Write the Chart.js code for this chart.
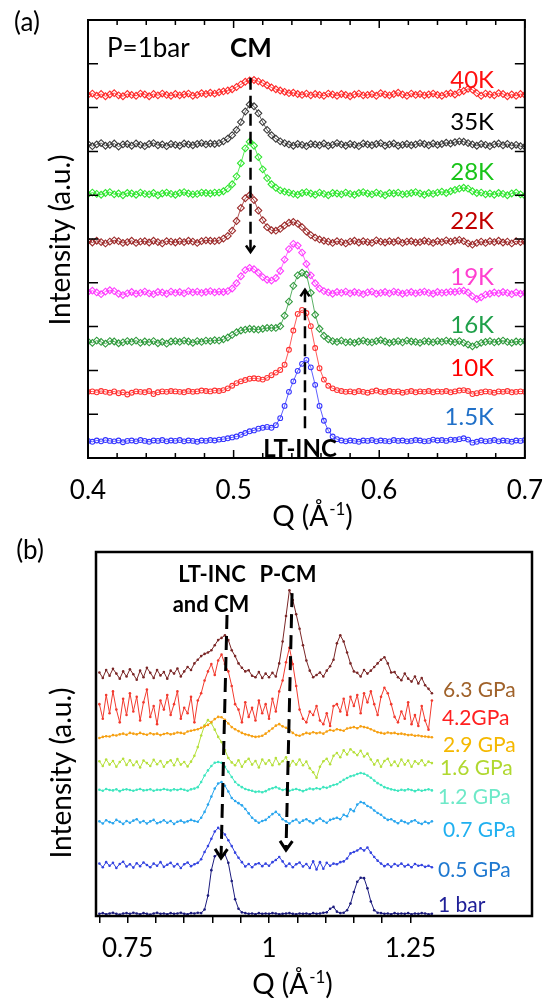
<!DOCTYPE html>
<html>
<head>
<meta charset="utf-8">
<title>Q scans vs temperature and pressure</title>
<script src="https://cdn.jsdelivr.net/npm/chart.js@4.4.1/dist/chart.umd.min.js"></script>
<style>
  html, body { margin: 0; padding: 0; background: #fff; }
  #wrap { position: relative; width: 560px; height: 1003px; }
  #wrap canvas { position: absolute; left: 0; top: 0; }
</style>
</head>
<body>
<div id="wrap">
  <canvas id="panelA" width="560" height="1003"></canvas>
  <canvas id="panelB" width="560" height="1003"></canvas>
</div>
<script>
const FONT = "Lato, 'Open Sans', sans-serif";
Chart.defaults.font.family = FONT;
Chart.defaults.color = '#000';

// ---------- panel (a): P = 1 bar, temperature scan ----------
const qStartA = 0.4;
const qStepA = 0.003;
const tickValsA = [0.4, 0.5, 0.6, 0.7];
const tempLabels = ['40K', '35K', '28K', '22K', '19K', '16K', '10K', '1.5K'];
// vertical offset of each curve (y units)
const tempOffsets = [8.29, 7.15, 6.03, 4.93, 3.77, 2.65, 1.51, 0.39];

// intensity above offset, in 1/100 of a y unit, one value every 0.003 in Q
const i40K = [
  0,3,-2,2,-3,1,4,-1,-3,2,
  0,-2,3,1,-3,2,-1,3,0,-2,
  2,-1,1,3,-2,0,4,2,5,3,
  6,8,10,13,18,24,30,33,34,31,
  27,22,17,13,10,7,4,5,2,0,
  3,-1,2,0,-2,3,1,-2,2,0,
  -3,1,3,-1,0,2,-2,4,1,-1,
  2,5,1,-2,3,0,2,-1,1,3,
  0,-2,2,4,1,6,9,14,12,4,
  -2,3,1,-1,4,2,-3,1,-2,2,0];
const i35K = [
  2,-3,1,4,-2,0,3,-4,1,2,
  -2,3,0,-3,2,4,-1,1,-3,2,
  0,-2,3,1,-1,2,4,1,3,2,
  4,8,14,22,34,52,76,92,88,72,
  52,34,22,14,8,4,1,-2,2,0,
  -3,2,1,-1,3,-2,0,4,1,-2,
  2,0,-3,3,1,-1,2,4,-2,1,
  3,-2,0,2,-1,1,4,2,-1,3,
  0,2,5,3,6,8,7,4,1,-2,
  2,0,-3,1,3,-1,2,-2,0,-3,-4];
const i28K = [
  -1,3,0,-2,2,4,-1,1,-3,2,
  1,-2,3,0,-1,2,-3,1,3,0,
  -2,2,4,1,-1,0,3,2,1,3,
  3,6,12,22,40,70,104,119,110,84,
  56,36,22,14,8,5,3,0,-2,2,
  4,1,-2,3,0,-3,2,1,-1,3,
  0,-2,2,4,1,-1,3,0,-3,2,
  1,3,-1,0,2,4,1,-2,2,0,
  3,5,2,6,9,12,14,12,6,2,
  3,-1,1,-2,2,0,-3,1,3,-1,-4];
const i22K = [
  2,-1,3,0,-3,1,4,2,-2,0,
  3,-2,1,2,-1,3,0,-3,2,1,
  -1,2,0,3,1,-2,2,4,3,2,
  4,8,14,26,48,78,100,107,96,72,
  50,34,27,26,30,38,44,46,42,34,
  24,16,10,6,3,1,-2,2,0,-3,
  1,3,-1,2,0,-2,4,1,-1,2,
  0,3,-2,1,2,-1,0,3,1,-2,
  2,0,4,1,3,5,2,-3,-6,-2,
  1,-2,2,0,3,-1,1,-3,2,0,1];
const i19K = [
  2,5,1,-3,3,6,4,-2,-5,-1,
  2,-2,0,3,-1,-3,2,1,-2,3,
  0,2,-1,4,1,3,0,2,4,1,
  3,2,4,10,22,38,52,57,54,46,
  36,30,28,34,50,76,100,112,108,92,
  66,40,22,10,4,1,-2,2,0,3,
  -1,2,0,-3,1,3,-2,0,2,-1,
  3,1,-2,0,2,-1,1,3,0,-2,
  2,0,1,3,2,4,5,1,-8,-14,
  -10,-4,-2,1,-1,2,0,-3,1,-2,0];
const i16K = [
  1,-2,3,0,-4,2,1,-3,-1,2,
  0,3,-2,1,-1,2,-3,0,-4,1,
  2,0,3,1,-2,2,0,3,2,4,
  3,6,10,16,22,26,28,30,29,28,
  30,32,32,32,36,60,92,128,152,158,
  154,112,62,30,14,6,2,0,3,-1,
  0,-2,1,3,0,-1,2,4,1,-2,
  0,2,-1,3,1,0,-2,2,1,-1,
  2,0,3,1,-1,2,-2,-6,-10,-6,
  -2,0,2,-1,1,3,0,-2,1,0,2];
const i10K = [
  0,1,-1,2,0,-2,1,-3,-1,-6,
  -2,1,0,-1,2,-5,-1,1,0,2,
  1,0,-1,2,0,1,3,2,1,3,
  2,4,8,14,20,24,27,30,31,30,
  28,32,38,44,50,62,96,140,178,187,
  180,150,100,54,28,14,8,4,2,0,
  1,-1,2,0,-2,1,3,0,-1,2,
  0,1,-2,0,2,-1,1,0,2,-1,
  1,0,2,-1,1,3,4,2,-5,-3,
  -1,1,0,-2,1,0,2,-1,0,1,0];
const i1p5K = [
  0,-2,1,-1,2,0,-1,1,-3,0,
  1,-1,2,0,-2,1,0,2,-1,1,
  0,2,-1,1,0,-2,1,0,2,1,
  3,4,6,8,10,14,18,22,24,28,
  30,32,30,36,52,80,112,136,160,176,
  185,168,128,80,46,24,10,4,1,-1,
  1,0,-2,1,0,2,-1,1,0,-1,
  2,0,1,-1,0,2,1,-1,0,3,
  1,2,0,3,2,4,6,3,-4,-2,
  1,-1,0,2,-1,1,0,-2,1,0,2];
const tempSeries = [i40K, i35K, i28K, i22K, i19K, i16K, i10K, i1p5K];

const tempColors = ['#ff2a2a', '#3a3a3a', '#2ee62e', '#9c2a2a', '#ff3cff', '#2f9a3c', '#ff3030', '#3535ff'];
const tempTextColors = ['#ff1010', '#000000', '#19c419', '#c00000', '#ff3fd0', '#1fa04a', '#ff0000', '#2070c8'];
const tempMarkers = ['rectRot', 'rectRot', 'rectRot', 'rectRot', 'rectRot', 'rectRot', 'circle', 'circle'];
const tempLabelY = [80, 122, 172, 221, 277, 325, 368, 417];

// ---------- panel (b): pressure scan ----------
const qStartB = 0.7;
const qStepB = 0.006;
const tickValsB = [0.7, 0.75, 0.8, 0.85, 0.9, 0.95, 1, 1.05, 1.1, 1.15, 1.2, 1.25];
const labeledB = [0.75, 1, 1.25];
const pressLabels = ['6.3 GPa', '4.2GPa', '2.9 GPa', '1.6 GPa', '1.2 GPa', '0.7 GPa', '0.5 GPa', '1 bar'];
const pressOffsets = [6.64, 5.72, 4.89, 4.20, 3.46, 2.58, 1.40, 0.06];

const p63 = [
  5,-10,12,-4,15,2,-12,8,-6,14,
  0,-15,10,-8,18,4,-10,12,-3,6,
  -12,10,2,16,-6,8,20,12,30,40,
  50,56,60,66,80,94,100,107,94,66,
  50,30,18,8,11,-4,-8,6,-10,2,
  -8,4,-6,30,90,160,231,204,165,125,
  80,38,10,-8,-2,5,-6,10,22,40,
  85,107,90,60,30,8,4,-6,12,2,
  10,20,30,40,47,30,5,6,-8,-16,
  2,-12,-20,-6,-25,-10,-30,-40,-52];
const p42 = [
  10,-30,35,-15,45,-5,-40,25,-20,40,
  -10,30,-35,15,50,-25,5,-45,20,-5,
  35,-20,10,45,-30,0,-15,30,-40,20,
  40,75,100,120,90,130,146,120,100,60,
  10,-5,-40,15,-25,0,-35,20,-15,10,
  -30,25,-10,45,75,125,165,120,60,-5,
  -30,-40,-10,-20,5,-35,-45,-15,-50,5,
  10,-10,25,-20,30,5,35,-15,40,15,
  45,10,-20,30,55,40,10,-25,-40,-10,
  -30,15,-45,-20,-50,5,-35,-60,20];
const p29 = [
  0,3,5,4,8,7,10,12,9,14,
  12,10,14,11,9,13,10,12,8,11,
  13,10,12,15,14,12,18,20,22,24,
  28,32,36,44,52,58,57,50,40,30,
  24,19,14,10,8,5,3,4,6,12,
  19,26,34,38,32,28,22,14,8,6,
  10,14,12,16,13,15,12,18,22,20,
  24,22,20,26,28,30,27,32,30,28,
  24,20,16,14,12,15,13,14,11,12,
  10,8,9,6,7,5,4,3,2];
const p16 = [
  5,-8,10,-4,6,-10,3,12,-5,8,
  -6,4,-12,7,0,-8,9,-3,6,-10,
  2,8,-6,11,-4,3,-9,4,20,44,
  76,104,118,110,92,72,58,36,14,2,
  -6,8,-10,4,12,-4,6,-12,10,-2,
  8,-6,14,-3,5,16,-8,6,-4,10,
  -6,4,-14,-25,-40,-10,5,12,-3,20,
  28,16,35,24,38,30,22,34,18,26,
  10,-4,8,-10,6,12,-6,4,-8,10,
  -4,7,-10,5,-2,8,-6,4,0];
const p12 = [
  1,-2,3,0,-1,2,-3,1,2,0,
  -2,1,3,-1,0,2,-2,1,0,3,
  1,-1,2,0,3,1,-2,2,4,8,
  22,40,54,66,75,77,75,64,50,36,
  22,14,8,3,0,-2,-5,-4,-6,-3,
  2,5,8,4,0,2,-2,1,3,0,
  -3,1,4,2,5,3,8,6,10,14,
  16,22,28,33,38,40,44,47,45,40,
  34,26,19,14,8,5,2,0,-2,1,
  -1,2,0,-3,1,-2,0,2,-1];
const p07 = [
  2,-4,5,0,-3,6,1,-5,3,-2,
  4,8,-1,3,-4,2,6,-3,0,5,
  -2,3,-5,1,4,-1,2,6,3,1,
  12,28,48,70,92,106,110,100,84,66,
  58,52,46,36,24,12,4,-2,3,6,
  14,22,28,20,8,2,-4,3,7,-2,
  4,8,2,-3,5,10,3,-2,6,9,
  12,8,20,16,35,30,48,55,52,44,
  40,32,25,20,12,6,8,2,-3,4,
  0,-4,2,5,-2,-5,1,-3,2];
const p05 = [
  4,-6,8,-2,6,-8,3,9,-4,2,
  -7,5,-3,7,0,-6,4,-2,8,-5,
  1,6,-4,3,-8,2,7,-3,2,6,
  16,36,52,72,92,102,94,84,68,52,
  34,20,8,-4,3,-6,2,5,-3,4,
  -2,8,14,22,10,-3,4,-6,2,7,
  -4,3,-8,10,-12,8,-10,6,-2,4,
  2,8,10,18,32,36,40,46,40,48,
  34,22,12,4,-3,2,-5,3,-2,4,
  -4,1,-6,3,-2,0,-5,-2,-6];
const p1bar = [
  0,2,-1,1,3,0,-2,1,2,0,
  3,1,-1,2,0,-2,1,3,0,1,
  -1,2,0,1,3,0,-1,2,1,3,
  2,12,50,120,158,165,160,164,140,90,
  40,14,4,2,0,1,-1,2,0,1,
  0,2,1,-1,0,1,2,0,-1,1,
  0,1,-1,2,0,1,3,4,14,19,
  6,2,3,10,28,60,88,99,98,70,
  34,10,3,2,0,1,-1,2,0,1,
  0,2,-1,1,0,2,1,-1,0];
const pressSeries = [p63, p42, p29, p16, p12, p07, p05, p1bar];

const pressColors = ['#7a2626', '#f23a2e', '#f6a012', '#b6e03c', '#3fe6bf', '#2aa6ee', '#3343e0', '#1c1c7e'];
const pressTextColors = ['#a0622a', '#ff2020', '#f5b800', '#b0d830', '#6ee9c8', '#20b0f0', '#1e78d0', '#202098'];
const pressLabelX = [443, 442, 443, 440, 438, 443, 438, 438];
const pressLabelY = [690, 718, 745, 768, 797, 830, 870, 905];

// ---------- drawing helpers ----------
function text(ctx, t) {
  ctx.font = (t.bold ? 'bold ' : '') + t.size + 'px ' + FONT;
  ctx.fillStyle = t.color || '#000';
  ctx.textAlign = t.align || 'left';
  ctx.textBaseline = 'middle';
  ctx.fillText(t.text, t.x, t.y);
}

function qTitle(ctx, cx, cy, size) {
  const main = 'Q (Å', sup = '-1', end = ')';
  const small = Math.round(size * 0.62);
  ctx.font = size + 'px ' + FONT;
  const w1 = ctx.measureText(main).width, w3 = ctx.measureText(end).width;
  ctx.font = small + 'px ' + FONT;
  const w2 = ctx.measureText(sup).width;
  let x = cx - (w1 + w2 + w3) / 2;
  const base = cy + size * 0.35;
  ctx.fillStyle = '#000';
  ctx.textAlign = 'left';
  ctx.textBaseline = 'alphabetic';
  ctx.font = size + 'px ' + FONT;
  ctx.fillText(main, x, base);
  x += w1;
  ctx.font = small + 'px ' + FONT;
  ctx.fillText(sup, x + 1, base - size * 0.4);
  x += w2 + 1;
  ctx.font = size + 'px ' + FONT;
  ctx.fillText(end, x, base);
}

function yTitle(ctx, cx, cy, size) {
  ctx.save();
  ctx.translate(cx, cy);
  ctx.rotate(-Math.PI / 2);
  ctx.font = size + 'px ' + FONT;
  ctx.textAlign = 'center';
  ctx.textBaseline = 'middle';
  ctx.fillStyle = '#000';
  ctx.fillText('Intensity (a.u.)', 0, 0);
  ctx.restore();
}

function dashedArrow(ctx, x0, y0, x1, y1, o) {
  ctx.save();
  ctx.strokeStyle = '#000';
  ctx.lineWidth = o.width;
  ctx.setLineDash(o.dash);
  ctx.beginPath();
  ctx.moveTo(x0, y0);
  ctx.lineTo(x1, y1);
  ctx.stroke();
  ctx.setLineDash([]);
  const ang = Math.atan2(y1 - y0, x1 - x0);
  ctx.beginPath();
  ctx.moveTo(x1 - o.head * Math.cos(ang - 0.6), y1 - o.head * Math.sin(ang - 0.6));
  ctx.lineTo(x1, y1);
  ctx.lineTo(x1 - o.head * Math.cos(ang + 0.6), y1 - o.head * Math.sin(ang + 0.6));
  ctx.stroke();
  ctx.restore();
}

// frame + annotations, one plugin per panel
function makeDecor(cfg) {
  return {
    id: 'decor',
    afterDatasetsDraw(chart) {
      const { ctx, chartArea: a, scales: { x, y } } = chart;
      ctx.save();
      ctx.strokeStyle = '#000';
      ctx.lineWidth = cfg.frameWidth;
      ctx.strokeRect(a.left, a.top, a.right - a.left, a.bottom - a.top);

      // inward tick marks (panel a)
      if (cfg.inTicks) {
        ctx.lineWidth = 1.5;
        ctx.beginPath();
        for (let k = 0; k <= 15; k++) {
          const v = 0.4 + 0.02 * k;
          const px = x.getPixelForValue(v);
          const len = k % 5 === 0 ? 8 : 5;
          ctx.moveTo(px, a.bottom); ctx.lineTo(px, a.bottom - len);
          ctx.moveTo(px, a.top); ctx.lineTo(px, a.top + len);
        }
        for (let v = 1; v <= 9; v++) {
          const py = y.getPixelForValue(v);
          ctx.moveTo(a.left, py); ctx.lineTo(a.left + 10, py);
          ctx.moveTo(a.right, py); ctx.lineTo(a.right - 10, py);
        }
        ctx.stroke();
      }

      cfg.arrows.forEach(ar => {
        dashedArrow(ctx, x.getPixelForValue(ar.q0), y.getPixelForValue(ar.y0),
          x.getPixelForValue(ar.q1), y.getPixelForValue(ar.y1), cfg.arrowStyle);
      });
      cfg.texts.forEach(t => text(ctx, t));
      qTitle(ctx, cfg.qTitle[0], cfg.qTitle[1], 28);
      yTitle(ctx, cfg.yTitle[0], cfg.yTitle[1], 28);
      ctx.restore();
    }
  };
}

// ---------- panel (a) ----------
const qA = i40K.map((_, i) => +(qStartA + i * qStepA).toFixed(3));
const dsA = tempSeries.map((vals, k) => ({
  label: tempLabels[k],
  data: vals.map((v, i) => ({ x: qA[i], y: tempOffsets[k] + v / 100 })),
  borderColor: tempColors[k],
  borderWidth: 0.8,
  pointStyle: tempMarkers[k],
  pointRadius: tempMarkers[k] === 'circle' ? 2.4 : 3.4,
  pointBorderWidth: 1.1,
  pointBorderColor: tempColors[k],
  pointBackgroundColor: 'rgba(255,255,255,0)',
  fill: false,
  tension: 0
}));

const textsA = [
  { text: '(a)', x: 27, y: 23, size: 26, align: 'center' },
  { text: 'P=1bar', x: 107, y: 49, size: 26 },
  { text: 'CM', x: 251, y: 49, size: 26, bold: true, align: 'center' },
  { text: 'LT-INC', x: 300, y: 449, size: 24, bold: true, align: 'center' }
].concat(tempLabels.map((t, k) => ({
  text: t, x: 494, y: tempLabelY[k], size: 24, align: 'right', color: tempTextColors[k]
})));

new Chart(document.getElementById('panelA'), {
  type: 'line',
  data: { datasets: dsA },
  options: {
    responsive: false,
    animation: false,
    events: [],
    layout: { padding: { left: 88, right: 31, top: 20, bottom: 485 } },
    plugins: { legend: { display: false }, tooltip: { enabled: false } },
    scales: {
      x: {
        type: 'linear', min: 0.4, max: 0.7,
        afterBuildTicks: s => { s.ticks = tickValsA.map(v => ({ value: v })); },
        afterFit: s => { s.height = 60; },
        grid: { display: false, drawTicks: false },
        border: { display: false },
        ticks: { font: { size: 26 }, color: '#000', padding: 17, maxRotation: 0, autoSkip: false,
                 callback: v => String(v) }
      },
      y: { display: false, min: 0, max: 10 }
    }
  },
  plugins: [makeDecor({
    frameWidth: 2,
    inTicks: true,
    arrowStyle: { width: 2.5, dash: [12, 6], head: 8 },
    arrows: [
      { q0: 0.5116, y0: 8.68, q1: 0.5116, y1: 4.70 },
      { q0: 0.549, y0: 0.68, q1: 0.549, y1: 3.84 }
    ],
    texts: textsA,
    qTitle: [312, 516],
    yTitle: [61, 240]
  })]
});

// ---------- panel (b) ----------
const qB = p63.map((_, i) => +(qStartB + i * qStepB).toFixed(3));
const dsB = pressSeries.map((vals, k) => ({
  label: pressLabels[k],
  data: vals.map((v, i) => ({ x: qB[i], y: pressOffsets[k] + v / 100 })),
  borderColor: pressColors[k],
  borderWidth: 1,
  pointStyle: 'circle',
  pointRadius: 1.3,
  pointBorderWidth: 0,
  pointBackgroundColor: pressColors[k],
  fill: false,
  tension: 0
}));

const textsB = [
  { text: '(b)', x: 30, y: 551, size: 26, align: 'center' },
  { text: 'LT-INC', x: 212, y: 575, size: 22, bold: true, align: 'center' },
  { text: 'and CM', x: 211, y: 605, size: 22, bold: true, align: 'center' },
  { text: 'P-CM', x: 288, y: 575, size: 22, bold: true, align: 'center' }
].concat(pressLabels.map((t, k) => ({
  text: t, x: pressLabelX[k], y: pressLabelY[k], size: 21, color: pressTextColors[k]
})));

new Chart(document.getElementById('panelB'), {
  type: 'line',
  data: { datasets: dsB },
  options: {
    responsive: false,
    animation: false,
    events: [],
    layout: { padding: { left: 96, right: 28, top: 552, bottom: 27 } },
    plugins: { legend: { display: false }, tooltip: { enabled: false } },
    scales: {
      x: {
        type: 'linear', min: 0.694, max: 1.465,
        afterBuildTicks: s => { s.ticks = tickValsB.map(v => ({ value: v })); },
        afterFit: s => { s.height = 60; },
        grid: { display: true, drawOnChartArea: false, drawTicks: true, tickLength: 7,
                color: '#000', lineWidth: 1.5 },
        border: { display: false },
        ticks: { font: { size: 26 }, color: '#000', padding: 10, maxRotation: 0, autoSkip: false,
                 callback: v => labeledB.includes(v) ? String(v) : '' }
      },
      y: { display: false, min: 0, max: 10 }
    }
  },
  plugins: [makeDecor({
    frameWidth: 2.5,
    inTicks: false,
    arrowStyle: { width: 3, dash: [14, 7], head: 11 },
    arrows: [
      { q0: 0.9257, y0: 8.27, q1: 0.9151, y1: 1.59 },
      { q0: 1.0407, y0: 8.87, q1: 1.0300, y1: 1.81 }
    ],
    texts: textsB,
    qTitle: [292, 984],
    yTitle: [62, 773]
  })]
});
</script>
</body>
</html>
